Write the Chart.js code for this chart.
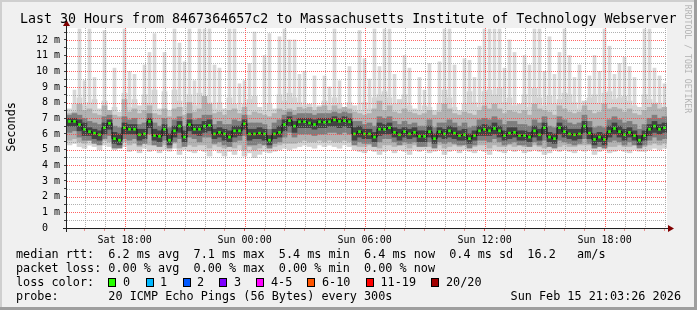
<!DOCTYPE html>
<html><head><meta charset="utf-8">
<script src="https://cdn.jsdelivr.net/npm/chart.js@4.4.1/dist/chart.umd.min.js"></script>
<style>
html,body{margin:0;padding:0;background:#f0f0f0;}
#wrap{position:relative;width:697px;height:310px;overflow:hidden;}
canvas{position:absolute;left:0;top:0;}
.t{position:absolute;font-family:'DejaVu Sans Mono',monospace;color:#000;white-space:pre;}
.box{position:absolute;box-sizing:border-box;border:1px solid #000;width:8px;height:9px;}
</style></head><body>
<div id="wrap">
<canvas id="c" width="697" height="310"></canvas>
<div class="t" style="left:20px;top:11px;font-size:13.3px;line-height:16px">Last 30 Hours from 8467364657c2 to Massachusetts Institute of Technology Webserver</div>
<div class="t" style="left:-29px;top:120px;width:80px;text-align:center;font-size:11.8px;line-height:14px;transform:rotate(-90deg)">Seconds</div>
<div class="t" style="left:633px;top:54px;width:110px;text-align:center;font-size:8.2px;line-height:10px;color:#b4b4b4;transform:rotate(90deg)">RRDTOOL / TOBI OETIKER</div>
<div class="t" style="left:16px;top:247px;font-size:11.8px;line-height:14px">median rtt:  6.2 ms avg  7.1 ms max  5.4 ms min  6.4 ms now  0.4 ms sd  16.2   am/s
packet loss: 0.00 % avg  0.00 % max  0.00 % min  0.00 % now
loss color:
probe:       20 ICMP Echo Pings (56 Bytes) every 300s</div>
<div class="t" style="right:16px;top:289px;font-size:11.8px;line-height:14px">Sun Feb 15 21:03:26 2026</div>
<div id="losslegend"></div>
</div>
<script>
// ---- data (one slot = 15 minutes) ----
const median = [
6.8,6.8,6.6,6.3,6.15,6.05,5.95,6.4,6.68,5.7,
5.6,6.4,6.3,6.3,5.95,6.0,6.8,5.9,5.85,6.3,
5.6,6.2,6.5,5.8,6.6,6.3,6.3,6.5,6.55,6.0,
6.1,6.0,5.8,6.2,6.2,6.65,6.0,6.0,6.05,6.0,
5.6,6.0,6.1,6.6,6.85,6.5,6.78,6.78,6.7,6.6,
6.78,6.75,6.78,6.9,6.8,6.85,6.78,6.0,6.15,6.0,
6.0,5.8,6.3,6.3,6.4,6.1,5.95,6.15,6.0,6.1,
5.85,5.85,6.15,5.7,6.15,6.0,6.2,6.05,5.9,5.95,
5.7,5.9,6.2,6.3,6.2,6.35,6.2,5.9,6.05,6.1,
5.9,5.9,5.8,6.2,5.95,6.4,5.8,5.7,6.4,6.15,
6.0,5.95,6.0,6.5,6.05,5.65,5.8,5.65,6.15,6.35,
6.15,5.95,6.1,5.9,5.6,5.9,6.3,6.5,6.3,6.4];
const smokeMin = [
5.3,5.4,5.2,5.1,5.3,5.2,5.0,5.3,5.2,5.0,
5.1,5.2,4.9,5.0,4.8,5.1,4.9,5.0,4.8,5.0,
4.9,5.1,4.7,5.0,4.9,4.8,5.0,4.9,4.6,5.0,
4.8,4.6,4.9,4.7,5.0,4.6,4.8,4.5,4.7,4.9,
4.8,4.9,5.0,5.1,5.0,5.1,5.2,5.3,5.2,5.1,
5.3,5.2,5.3,5.2,5.1,5.3,5.2,5.0,4.9,4.8,
5.0,4.9,4.7,4.9,5.0,4.8,5.0,4.9,4.7,5.0,
4.9,5.0,4.8,4.9,5.0,4.7,4.9,5.0,4.8,5.0,
4.9,4.8,5.0,4.9,4.7,5.0,4.9,4.8,5.0,4.9,
5.0,4.8,4.9,5.0,4.9,4.7,4.8,5.0,4.9,5.0,
4.9,4.8,5.0,4.9,5.0,4.7,4.9,5.0,4.8,4.9,
5.0,4.9,4.8,5.0,4.9,4.9,5.0,5.1,5.0,5.1];
const smokeLow = [
5.6,5.7,5.5,5.4,5.6,5.5,5.4,5.6,5.5,5.3,
5.3,5.5,5.3,5.4,5.2,5.4,5.3,5.3,5.2,5.3,
5.2,5.4,5.1,5.3,5.3,5.2,5.3,5.3,5.1,5.3,
5.2,5.1,5.2,5.1,5.3,5.0,5.2,5.0,5.1,5.3,
5.1,5.2,5.3,5.4,5.4,5.4,5.5,5.6,5.5,5.5,
5.6,5.5,5.6,5.5,5.5,5.6,5.5,5.3,5.2,5.2,
5.3,5.2,5.1,5.3,5.3,5.2,5.3,5.3,5.1,5.3,
5.2,5.3,5.2,5.2,5.3,5.1,5.2,5.3,5.2,5.3,
5.2,5.2,5.3,5.3,5.1,5.3,5.2,5.2,5.3,5.2,
5.3,5.2,5.2,5.3,5.2,5.1,5.2,5.3,5.2,5.3,
5.2,5.2,5.3,5.3,5.3,5.1,5.2,5.3,5.2,5.2,
5.3,5.2,5.2,5.3,5.2,5.2,5.3,5.4,5.3,5.4];
const innerLow = [
6.1,6.2,5.8,5.6,5.6,5.4,5.3,5.7,5.9,5.1,
5.1,5.7,5.6,5.7,5.3,5.4,6.0,5.3,5.2,5.6,
5.1,5.5,5.7,5.2,5.8,5.7,5.5,5.8,5.8,5.4,
5.5,5.3,5.2,5.5,5.6,5.9,5.3,5.3,5.4,5.3,
5.1,5.4,5.5,5.8,6.1,5.8,6.0,6.0,6.0,5.9,
6.0,6.0,6.1,6.1,6.0,6.1,6.0,5.3,5.5,5.4,
5.4,5.2,5.5,5.7,5.7,5.5,5.3,5.5,5.4,5.5,
5.2,5.2,5.5,5.1,5.5,5.4,5.5,5.4,5.3,5.3,
5.1,5.3,5.6,5.6,5.5,5.7,5.5,5.3,5.4,5.5,
5.3,5.3,5.2,5.5,5.3,5.6,5.2,5.1,5.6,5.5,
5.4,5.3,5.4,5.7,5.4,5.1,5.2,5.1,5.5,5.6,
5.5,5.3,5.5,5.3,5.1,5.3,5.6,5.8,5.6,5.7];
const coreLow = [
6.5,6.5,6.2,5.9,5.9,5.7,5.6,6.0,6.3,5.4,
5.3,6.0,6.0,6.0,5.6,5.7,6.4,5.6,5.5,5.9,
5.3,5.8,6.1,5.5,6.2,6.0,5.9,6.1,6.2,5.7,
5.8,5.6,5.5,5.8,5.9,6.3,5.6,5.7,5.7,5.6,
5.3,5.7,5.8,6.2,6.5,6.1,6.4,6.4,6.4,6.3,
6.4,6.4,6.5,6.5,6.4,6.5,6.4,5.6,5.8,5.7,
5.7,5.5,5.9,6.0,6.0,5.8,5.6,5.8,5.7,5.8,
5.5,5.5,5.8,5.4,5.8,5.7,5.8,5.7,5.6,5.6,
5.4,5.6,5.9,5.9,5.9,6.0,5.8,5.6,5.7,5.8,
5.6,5.6,5.5,5.8,5.6,6.0,5.5,5.4,6.0,5.8,
5.7,5.6,5.7,6.1,5.7,5.3,5.5,5.3,5.8,6.0,
5.8,5.6,5.8,5.6,5.3,5.6,5.9,6.1,6.0,6.1];
const coreHigh = [
7.0,7.0,6.9,6.7,6.4,6.3,6.2,6.7,6.9,6.1,
6.0,6.7,6.6,6.6,6.3,6.3,7.0,6.3,6.2,6.6,
6.0,6.5,6.8,6.2,6.9,6.6,6.6,6.8,6.9,6.3,
6.4,6.3,6.2,6.5,6.5,6.9,6.3,6.3,6.4,6.3,
5.9,6.3,6.5,6.9,7.1,6.8,7.0,7.0,7.0,6.9,
7.0,7.0,7.0,7.1,7.0,7.1,7.0,6.4,6.5,6.3,
6.3,6.1,6.7,6.6,6.7,6.4,6.3,6.4,6.3,6.4,
6.2,6.2,6.5,6.0,6.4,6.3,6.5,6.4,6.2,6.3,
6.0,6.2,6.5,6.6,6.5,6.7,6.5,6.2,6.4,6.4,
6.2,6.2,6.1,6.5,6.3,6.7,6.1,6.0,6.7,6.5,
6.3,6.3,6.3,6.8,6.4,6.0,6.1,6.0,6.5,6.7,
6.5,6.3,6.4,6.2,5.9,6.2,6.6,6.8,6.6,6.7];
const innerHigh = [
7.2,7.3,7.2,7.0,6.8,6.7,6.6,7.1,7.2,6.5,
6.4,7.1,6.9,7.0,6.6,6.7,7.3,6.7,6.5,7.0,
6.4,6.9,7.1,6.5,7.3,6.9,7.0,7.2,7.2,6.6,
6.8,6.6,6.6,6.9,6.8,7.2,6.7,6.7,6.7,6.6,
6.3,6.7,6.9,7.2,7.4,7.2,7.3,7.3,7.3,7.2,
7.3,7.3,7.3,7.4,7.3,7.4,7.3,6.8,6.8,6.6,
6.7,6.5,7.1,7.0,7.1,6.8,6.6,6.8,6.6,6.7,
6.5,6.5,6.9,6.4,6.7,6.7,6.9,6.7,6.5,6.7,
6.4,6.5,6.9,7.0,6.9,7.1,6.9,6.6,6.8,6.8,
6.6,6.6,6.5,6.9,6.7,7.1,6.5,6.4,7.1,6.9,
6.7,6.6,6.7,7.2,6.8,6.4,6.5,6.4,6.9,7.1,
6.9,6.7,6.8,6.6,6.3,6.6,7.0,7.2,7.0,7.1];
const smokeHigh = [
7.3,7.4,7.9,7.5,7.6,7.3,7.2,7.8,7.5,7.2,
7.1,8.2,7.4,7.6,7.3,7.5,7.8,7.3,7.2,7.6,
7.1,7.6,7.7,7.2,8.0,7.4,7.6,8.4,7.9,7.3,
7.4,7.2,7.5,7.6,7.3,7.7,7.2,7.4,7.3,7.2,
7.1,7.3,7.6,7.5,7.6,7.5,7.7,7.6,7.7,7.5,
7.7,7.8,7.5,7.8,7.6,7.7,7.6,7.4,7.3,7.2,
7.3,7.6,8.1,7.5,7.8,7.4,7.3,7.6,7.4,7.3,
7.2,7.3,7.5,7.2,7.4,7.9,7.6,7.3,7.2,7.4,
7.3,7.2,7.5,7.8,7.6,7.9,7.6,7.3,7.5,7.4,
7.3,7.5,7.2,7.9,7.6,7.5,7.4,7.2,7.8,7.6,
7.4,7.3,7.4,7.8,7.5,7.3,7.4,7.9,7.6,7.7,
7.6,7.4,7.6,7.3,7.2,7.5,7.7,7.9,7.6,7.7];
const smokeMax = [
7.6,7.9,8.3,7.8,8.0,8.2,7.6,8.1,7.5,7.7,
7.4,8.6,7.7,8.2,7.8,8.5,7.9,8.8,7.6,8.7,
7.5,8.8,8.1,7.7,8.5,7.8,8.6,8.2,8.0,7.6,
8.0,7.6,8.3,7.9,7.5,7.9,8.2,8.4,7.7,7.5,
7.9,7.6,8.5,8.1,8.6,8.3,8.0,7.8,7.9,7.7,
7.8,8.1,7.8,8.3,7.9,7.7,8.0,7.8,7.5,8.0,
7.6,8.3,8.5,8.7,8.3,7.9,8.2,8.5,7.8,7.6,
7.5,7.8,7.7,7.5,7.9,8.8,8.3,7.7,7.5,7.9,
8.7,8.0,7.7,8.7,8.8,8.5,8.9,8.0,8.3,7.8,
7.9,8.5,7.7,8.9,8.3,7.8,8.4,7.9,8.2,8.6,
8.5,8.0,7.6,8.1,8.3,8.5,7.9,8.6,8.7,8.2,
8.3,8.4,8.1,7.8,7.7,8.5,8.2,8.0,7.9,7.7];
const spikeMax = [
null,8.8,12.7,9.4,12.7,9.6,null,12.6,null,10.2,
null,12.7,10.0,9.8,null,10.4,11.2,12.4,null,11.2,
null,12.7,11.8,10.6,12.7,9.4,12.7,12.7,12.7,10.4,
10.2,null,12.7,12.7,9.2,9.4,10.5,12.5,null,11.0,
12.4,null,12.2,12.7,12.0,12.0,9.8,10.0,null,9.7,
null,9.7,9.0,12.7,9.4,null,10.3,null,12.6,10.8,
9.5,12.7,10.3,12.7,12.7,9.8,null,11.0,10.2,null,
9.6,8.8,10.5,null,10.6,12.7,12.7,10.4,null,10.8,
10.7,9.6,11.6,12.7,12.7,12.7,12.7,10.2,12.0,11.2,
null,11.0,10.4,12.7,12.7,10.0,12.2,9.8,11.2,12.7,
11.0,9.6,10.4,null,9.7,11.0,10.0,12.7,11.6,9.8,
10.5,10.9,10.3,9.6,null,12.7,12.7,10.2,9.7,9.2];
const slots = median.map((_, i) => String(i));
const xTickLabels = ['Sat 18:00','Sun 00:00','Sun 06:00','Sun 12:00','Sun 18:00'];
const yTickLabels = ['0  ','1 m','2 m','3 m','4 m','5 m','6 m','7 m','8 m','9 m','10 m','11 m','12 m'];
const lossNames = ['0','1','2','3','4-5','6-10','11-19','20/20'];
const lossColors = ['#26ff00','#00b8ff','#0059ff','#7e00ff','#ff00ff','#ff5500','#ff0000','#a10000'];

// ---- layout ----
const startHour = 15.12;      // graph start, hours (Sat)
const spanHours = 30;
const yMax = 12.76;
const boxX = [108,145.5,182.5,219,256,307,365.5,430.5];
const lblX = [123,160,197,234,271,322,380.5,446];

const ll = document.getElementById('losslegend');
lossNames.forEach((n, i) => {
  const b = document.createElement('div');
  b.className = 'box'; b.style.left = boxX[i] + 'px'; b.style.top = '278px'; b.style.background = lossColors[i];
  ll.appendChild(b);
  const t = document.createElement('div');
  t.className = 't'; t.textContent = n; t.style.left = lblX[i] + 'px'; t.style.top = '275px';
  t.style.fontSize = '11.8px'; t.style.lineHeight = '14px';
  ll.appendChild(t);
});

const MAJ = 'rgba(255,70,70,0.85)', MIN = 'rgba(150,150,150,0.75)';
const hourTicks = [];
for (let h = Math.ceil(startHour); h <= startHour + spanHours; h++) hourTicks.push(h - startHour);
const yTicks = [];
for (let v = 0; v < yMax; v += 0.5) yTicks.push(v);
const isMajorHour = v => Math.round(v + startHour) % 6 === 0;
const isInt = v => Math.abs(v - Math.round(v)) < 1e-6;

const framePlugin = {
  id: 'frame',
  beforeDraw(chart) {
    const {ctx, chartArea: a, width: W, height: H} = chart;
    ctx.save();
    ctx.fillStyle = '#f0f0f0'; ctx.fillRect(0, 0, W, H);
    ctx.fillStyle = '#cfcfcf'; ctx.fillRect(0, 0, W, 2); ctx.fillRect(0, 0, 2, H);
    ctx.fillStyle = '#9e9e9e'; ctx.fillRect(0, H - 3, W, 3); ctx.fillRect(W - 3, 0, 3, H);
    ctx.fillStyle = '#ffffff'; ctx.fillRect(a.left, a.top, a.right - a.left, a.bottom - a.top);
    ctx.restore();
  },
  afterDatasetsDraw(chart) {
    const {ctx, chartArea: a, scales} = chart;
    ctx.save();
    ctx.lineWidth = 1;
    ctx.setLineDash([1, 1]);
    yTicks.forEach(v => {
      if (v === 0) return;
      const y = Math.round(scales.y.getPixelForValue(v)) + 0.5;
      ctx.strokeStyle = isInt(v) ? MAJ : MIN;
      ctx.beginPath(); ctx.moveTo(a.left, y); ctx.lineTo(a.right, y); ctx.stroke();
    });
    hourTicks.forEach(v => {
      const x = Math.round(scales.xt.getPixelForValue(v)) + 0.5;
      ctx.strokeStyle = isMajorHour(v) ? MAJ : MIN;
      ctx.beginPath(); ctx.moveTo(x, a.top); ctx.lineTo(x, a.bottom); ctx.stroke();
    });
    ctx.restore();
  },
  afterDraw(chart) {
    const {ctx, chartArea: a} = chart;
    ctx.save();
    ctx.strokeStyle = '#202020'; ctx.lineWidth = 1;
    ctx.beginPath();
    ctx.moveTo(a.left - 4, a.bottom + 0.5); ctx.lineTo(a.right + 2, a.bottom + 0.5);
    ctx.moveTo(a.left - 0.5, a.bottom + 4); ctx.lineTo(a.left - 0.5, a.top - 2);
    ctx.stroke();
    ctx.fillStyle = '#800000';
    ctx.beginPath();
    ctx.moveTo(a.left - 0.5, a.top - 8); ctx.lineTo(a.left - 4, a.top - 2); ctx.lineTo(a.left + 3, a.top - 2); ctx.closePath(); ctx.fill();
    ctx.beginPath();
    ctx.moveTo(a.right + 7, a.bottom + 0.5); ctx.lineTo(a.right + 1, a.bottom - 3); ctx.lineTo(a.right + 1, a.bottom + 4); ctx.closePath(); ctx.fill();
    ctx.restore();
  }
};

const band = (lo, hi, order, color) => ({type: 'bar', data: lo.map((v, i) => [v, hi[i]]), order,
  backgroundColor: color, grouped: false, barPercentage: 1, categoryPercentage: 1, borderWidth: 0});

new Chart(document.getElementById('c'), {
  data: {
    labels: slots,
    datasets: [
      {type: 'line', data: median, order: 0, borderColor: '#151515', borderWidth: 1, stepped: 'middle',
       pointStyle: 'rect', pointRadius: 1.9, pointBorderWidth: 0, pointBackgroundColor: '#26ff00'},
      band(coreLow, coreHigh, 1, '#424242'),
      band(innerLow, innerHigh, 2, '#7e7e7e'),
      band(smokeLow, smokeHigh, 3, '#b2b2b2'),
      band(smokeMin, smokeMax, 4, '#d4d4d4'),
      {type: 'bar', data: spikeMax.map((v, i) => v == null ? null : [smokeMin[i], v]), order: 5, backgroundColor: '#d8d8d8',
       grouped: false, barThickness: 3, borderWidth: 0}
    ]
  },
  options: {
    responsive: false, animation: false, devicePixelRatio: 1,
    layout: {padding: {left: 0, right: 30, top: 28, bottom: 0}},
    plugins: {legend: {display: false}, tooltip: {enabled: false}, title: {display: false}},
    scales: {
      x: {type: 'category', display: false, offset: true},
      xt: {type: 'linear', position: 'bottom', min: 0, max: spanHours,
        afterBuildTicks: s => { s.ticks = hourTicks.map(v => ({value: v})); },
        afterFit: s => { s.height = 82; },
        ticks: {autoSkip: false, maxRotation: 0, minRotation: 0, padding: 3, color: '#000',
          font: {family: 'DejaVu Sans Mono', size: 10},
          callback: v => { const h = Math.round(v + startHour); return h % 6 === 0 ? xTickLabels[(h - 18) / 6] : ''; }},
        grid: {drawOnChartArea: false, tickLength: 3,
          tickColor: c => isMajorHour(c.tick.value) ? 'rgba(230,60,60,0.9)' : 'rgba(230,80,80,0.6)'},
        border: {display: false}
      },
      y: {type: 'linear', min: 0, max: yMax,
        afterBuildTicks: s => { s.ticks = yTicks.map(v => ({value: v})); },
        afterFit: s => { s.width = 67; },
        ticks: {autoSkip: false, padding: 4, color: '#000', font: {family: 'DejaVu Sans Mono', size: 10},
          callback: v => (isInt(v) ? yTickLabels[Math.round(v)] : '')},
        grid: {drawOnChartArea: false, tickLength: 3, tickColor: '#404040'},
        border: {display: false}
      }
    }
  },
  plugins: [framePlugin]
});
</script>
</body></html>
